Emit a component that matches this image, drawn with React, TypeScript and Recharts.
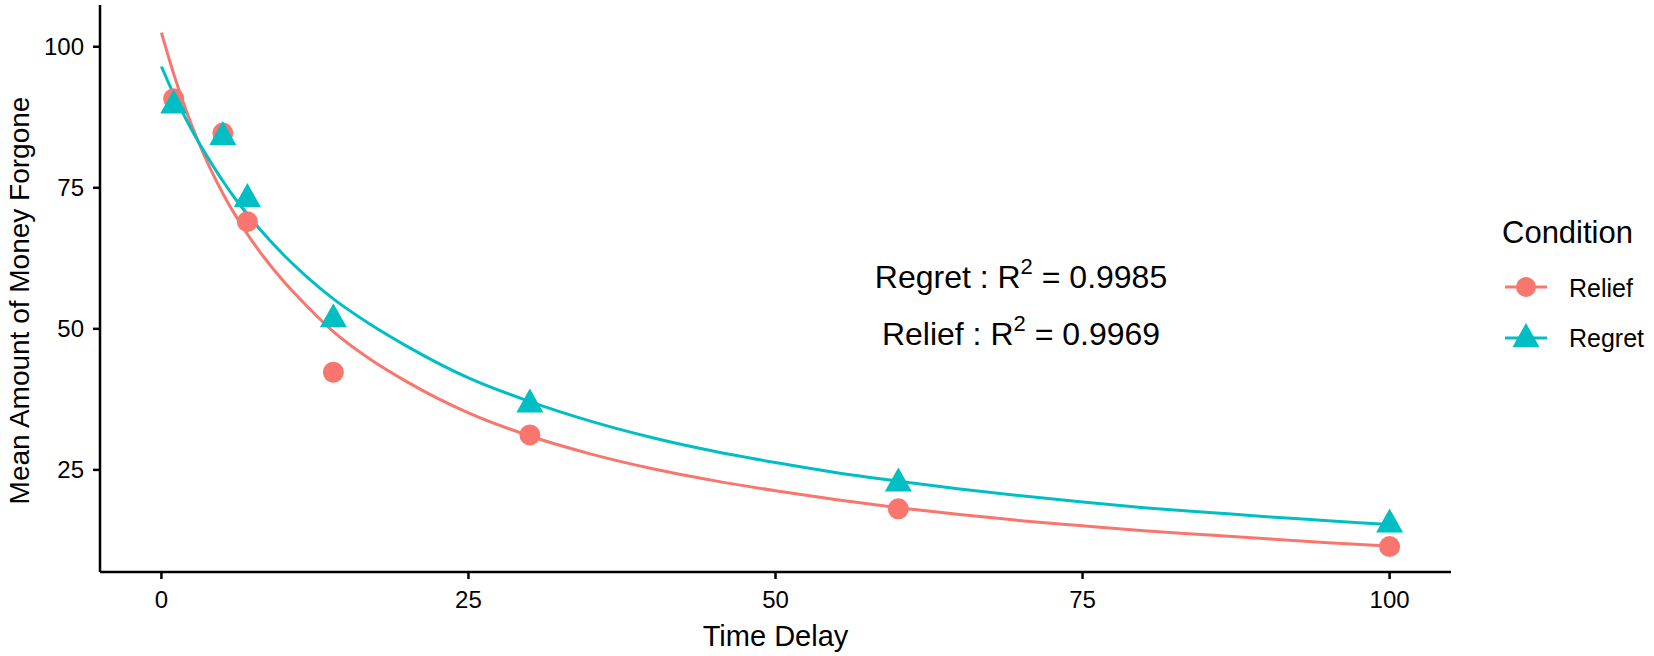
import { ComposedChart, Line, Scatter, XAxis, YAxis, Label } from 'recharts'

const RELIEF_COLOR = '#F8766D'
const REGRET_COLOR = '#00BFC4'
const FONT = '"Liberation Sans", Arial, sans-serif'

// observed means
const delays = [1, 5, 7, 14, 30, 60, 100]
const reliefMeans = [90.8, 84.7, 69.0, 42.3, 31.2, 18.1, 11.4]
const regretMeans = [89.6, 84.0, 73.0, 51.7, 36.6, 22.6, 15.3]

// fitted curves
const curveDelays = [0, 1, 2, 3, 4, 5, 6, 7, 8, 10, 12, 14, 17, 20, 25, 30, 35, 40, 45, 50, 55, 60, 65, 70, 75, 80, 85, 90, 95, 100]
const reliefFit = [102.5, 95.2, 88.8, 83.2, 78.3, 74.0, 70.2, 66.8, 63.7, 58.3, 53.7, 49.5, 44.6, 40.6, 35.1, 31.0, 27.8, 25.2, 23.1, 21.3, 19.7, 18.3, 17.1, 16.0, 15.1, 14.2, 13.5, 12.8, 12.1, 11.5]
const regretFit = [96.5, 91.6, 87.2, 83.2, 79.6, 76.2, 73.1, 70.3, 67.7, 63.0, 58.9, 55.3, 50.8, 46.9, 41.3, 37.1, 33.6, 30.7, 28.3, 26.3, 24.5, 23.0, 21.6, 20.4, 19.3, 18.3, 17.5, 16.7, 16.0, 15.3]

const xTicks = [0, 25, 50, 75, 100]
const yTicks = [25, 50, 75, 100]

const curveData = curveDelays.map((x, i) => ({ x, relief: reliefFit[i], regret: regretFit[i] }))
const reliefPoints = delays.map((x, i) => ({ x, y: reliefMeans[i] }))
const regretPoints = delays.map((x, i) => ({ x, y: regretMeans[i] }))

const CircleDot = (props: any) => (
  <circle cx={props.cx} cy={props.cy} r={10.5} fill={RELIEF_COLOR} />
)

const TriangleDot = (props: any) => {
  const { cx, cy } = props
  return (
    <polygon
      points={`${cx},${cy - 16} ${cx - 13.5},${cy + 8} ${cx + 13.5},${cy + 8}`}
      fill={REGRET_COLOR}
    />
  )
}

const tickStyle = { fill: '#000', fontSize: 24, fontFamily: FONT }

export default function App() {
  return (
    <div style={{ position: 'absolute', left: 0, top: 0, width: 1654, height: 656, background: '#fff', fontFamily: FONT }}>
      <ComposedChart
        width={1654}
        height={656}
        data={curveData}
        margin={{ top: 5, right: 203, bottom: 0, left: 0 }}
      >
        <XAxis
          dataKey="x"
          type="number"
          domain={[-5, 105]}
          ticks={xTicks}
          allowDataOverflow
          height={84}
          axisLine={{ stroke: '#000', strokeWidth: 2.5 }}
          tickLine={{ stroke: '#000', strokeWidth: 2.5 }}
          tickSize={7}
          tickMargin={12}
          tick={tickStyle}
        >
          <Label
            content={(p: any) => (
              <text
                x={p.viewBox.x + p.viewBox.width / 2}
                y={p.viewBox.y + 64}
                textAnchor="middle"
                dominantBaseline="central"
                fontSize={29}
                fontFamily={FONT}
                fill="#000"
              >
                Time Delay
              </text>
            )}
          />
        </XAxis>
        <YAxis
          type="number"
          domain={[6.9, 107.4]}
          ticks={yTicks}
          allowDataOverflow
          width={100}
          axisLine={{ stroke: '#000', strokeWidth: 2.5 }}
          tickLine={{ stroke: '#000', strokeWidth: 2.5 }}
          tickSize={7}
          tickMargin={9}
          tick={tickStyle}
        >
          <Label
            content={(p: any) => {
              const cx = p.viewBox.x + 19
              const cy = p.viewBox.y + p.viewBox.height / 2 + 12
              return (
                <text
                  x={cx}
                  y={cy}
                  transform={`rotate(-90 ${cx} ${cy})`}
                  textAnchor="middle"
                  dominantBaseline="central"
                  fontSize={28}
                  fontFamily={FONT}
                  fill="#000"
                >
                  Mean Amount of Money Forgone
                </text>
              )
            }}
          />
        </YAxis>
        <Scatter data={reliefPoints} dataKey="y" shape={CircleDot} isAnimationActive={false} />
        <Scatter data={regretPoints} dataKey="y" shape={TriangleDot} isAnimationActive={false} />
        <Line type="monotone" dataKey="relief" stroke={RELIEF_COLOR} strokeWidth={3} dot={false} activeDot={false} isAnimationActive={false} />
        <Line type="monotone" dataKey="regret" stroke={REGRET_COLOR} strokeWidth={3} dot={false} activeDot={false} isAnimationActive={false} />
      </ComposedChart>

      {/* R² annotation */}
      <svg style={{ position: 'absolute', left: 0, top: 0 }} width={1654} height={656} pointerEvents="none">
        <text x={1021} y={288} textAnchor="middle" fontSize={32} fontFamily={FONT} fill="#000">
          Regret : R<tspan dy={-14} fontSize={22}>2</tspan><tspan dy={14}> = 0.9985</tspan>
        </text>
        <text x={1021} y={345} textAnchor="middle" fontSize={32} fontFamily={FONT} fill="#000">
          Relief : R<tspan dy={-14} fontSize={22}>2</tspan><tspan dy={14}> = 0.9969</tspan>
        </text>

        {/* legend */}
        <text x={1502} y={243} fontSize={31} fontFamily={FONT} fill="#000">Condition</text>
        <line x1={1505} x2={1547} y1={287} y2={287} stroke={RELIEF_COLOR} strokeWidth={3} />
        <circle cx={1526} cy={287} r={10} fill={RELIEF_COLOR} />
        <text x={1569} y={288} dominantBaseline="central" fontSize={25} fontFamily={FONT} fill="#000">Relief</text>
        <line x1={1505} x2={1547} y1={338} y2={338} stroke={REGRET_COLOR} strokeWidth={3} />
        <polygon points="1526,323 1512.5,347 1539.5,347" fill={REGRET_COLOR} />
        <text x={1569} y={338} dominantBaseline="central" fontSize={25} fontFamily={FONT} fill="#000">Regret</text>
      </svg>
    </div>
  )
}
